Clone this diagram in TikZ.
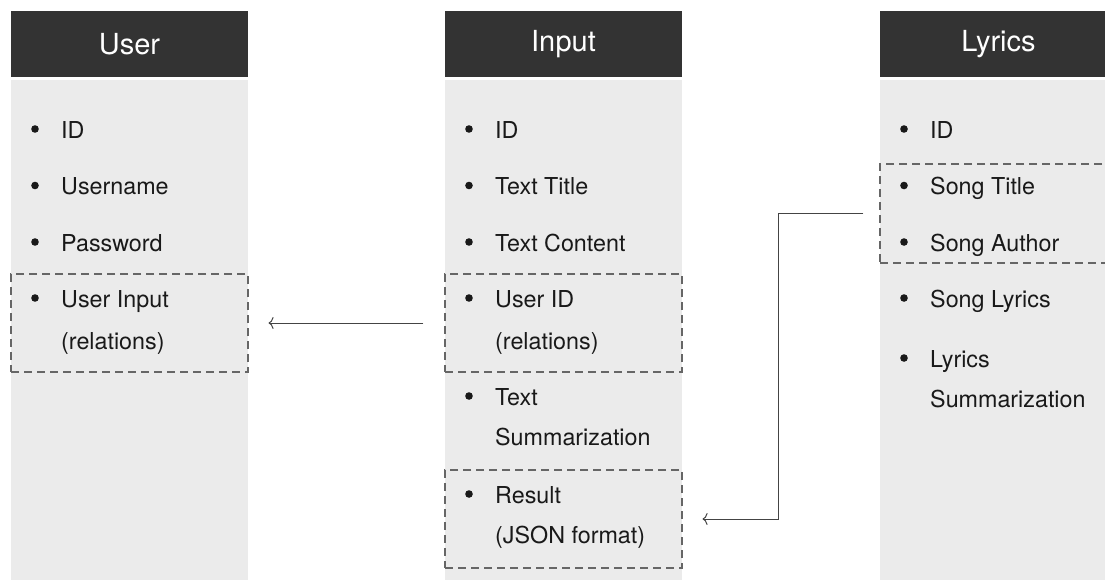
\documentclass[tikz,border=0pt]{standalone}
\usepackage{fontspec}
\setmainfont{TeX Gyre Heros}
\usetikzlibrary{positioning}
\usetikzlibrary{arrows.meta}
\definecolor{headgray}{HTML}{333333}
\definecolor{bodygray}{HTML}{EBEBEB}
\definecolor{linegray}{HTML}{666666}
\definecolor{arrowgray}{HTML}{444444}

\begin{document}
\begin{tikzpicture}[x=1pt,y=-1pt,
  head/.style={fill=headgray, text=white, minimum width=237pt, minimum height=66pt, inner sep=0pt, font=\fontsize{29}{30}\selectfont},
  body/.style={fill=bodygray, minimum width=237pt, minimum height=500pt, inner sep=0pt, anchor=north},
  entry/.style={anchor=base west, inner sep=0pt, text=black!90, font=\fontsize{23.3}{26}\selectfont},
  relbox/.style={draw=linegray, dash pattern=on 8pt off 5pt, line width=1.1pt, minimum width=237pt, minimum height=98pt, inner sep=0pt},
  link/.style={draw=arrowgray, line width=1pt, -{To[length=5pt,width=12pt]}}
]
\useasboundingbox (0,0) rectangle (1105,579);
\clip (0,0) rectangle (1105,579);

%columns
\node[body] (usrbody) at (129.5,80) {};
\node[body] (inbody) at (563.5,80) {};
\node[body] (lybody) at (998.5,80) {};
\node[head] (usrhead) at (129.5,44) {User};
\node[head] (inhead) at (563.5,44) {Input};
\node[head] (lyhead) at (998.5,44) {Lyrics};

%user entries
\node[entry] (usrid) at (61,138) {ID};
\node[entry] (usrname) at (61,194.5) {Username};
\node[entry] (usrpass) at (61,251) {Password};
\node[entry] (usrin) at (61,307) {User Input};
\node[entry] (usrinrel) at (61,349) {(relations)};

%input entries
\node[entry] (inid) at (495,138) {ID};
\node[entry] (intitle) at (495,194.5) {Text Title};
\node[entry] (incontent) at (495,251) {Text Content};
\node[entry] (inuid) at (495,307) {User ID};
\node[entry] (inuidrel) at (495,349) {(relations)};
\node[entry] (insum) at (495,405) {Text};
\node[entry] (insumb) at (495,445) {Summarization};
\node[entry] (inres) at (495,503) {Result};
\node[entry] (inresfmt) at (495,543) {(JSON format)};

%lyrics entries
\node[entry] (lyid) at (930,138) {ID};
\node[entry] (lytitle) at (930,194.5) {Song Title};
\node[entry] (lyauthor) at (930,251) {Song Author};
\node[entry] (lylyrics) at (930,307) {Song Lyrics};
\node[entry] (lysum) at (930,367) {Lyrics};
\node[entry] (lysumb) at (930,407) {Summarization};

%bullets
\foreach \n in {usrid,usrname,usrpass,usrin,inid,intitle,incontent,inuid,insum,inres,lyid,lytitle,lyauthor,lylyrics,lysum}
  \fill[black!90] ([shift={(-26,-9)}]\n.base west) circle (3.8);

%relation boxes
\node[relbox] (usrbox) at (129.5,323) {};
\node[relbox] (inuidbox) at (563.5,323) {};
\node[relbox] (inresbox) at (563.5,519) {};
\node[relbox, minimum height=99pt] (lysongbox) at (998.5,213.5) {};

%links
\draw[link, shorten <=21pt, shorten >=20pt] (inuidbox.west) -- (usrbox.east);
\draw[link, shorten <=16pt, shorten >=20pt] (lysongbox.west) -- ++(-101,0) |- (inresbox.east);

\end{tikzpicture}
\end{document}
